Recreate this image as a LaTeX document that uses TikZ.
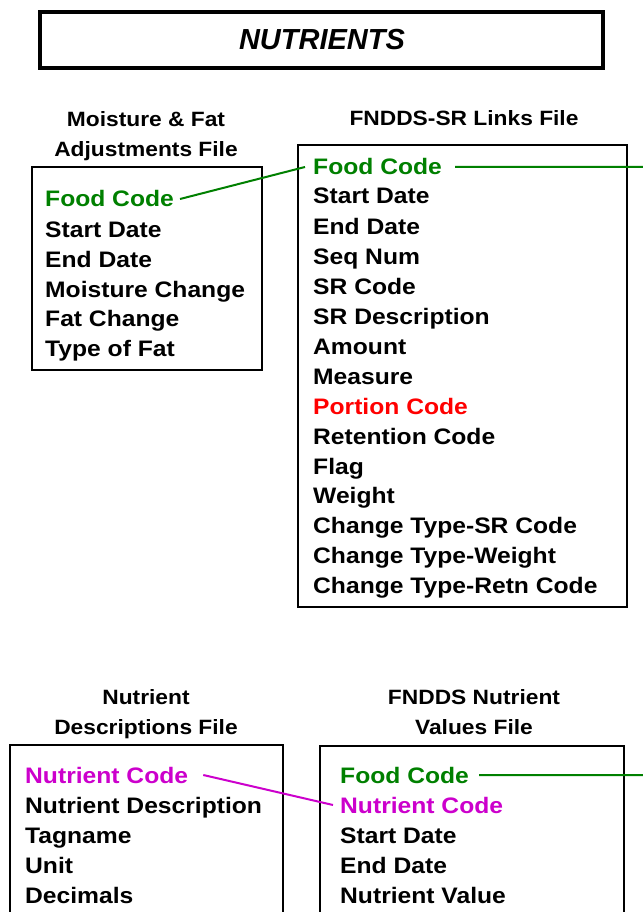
\documentclass[tikz,border=0pt]{standalone}
\usepackage{fontspec}
\newfontfamily\df{Liberation Sans}[FakeStretch=1.1]
\newfontfamily\tf{Liberation Sans}
\definecolor{lgreen}{RGB}{0,128,0}
\definecolor{lmag}{RGB}{204,0,204}
\definecolor{lred}{RGB}{255,0,0}
\begin{document}
\begin{tikzpicture}[x=1pt,y=-1pt,
  box/.style={draw=black,line width=1.1pt,inner sep=0pt},
  titlebox/.style={draw=black,line width=4pt,inner sep=0pt},
  item/.style={anchor=base west,inner sep=0pt,font=\df\bfseries\fontsize{22.4}{26}\selectfont},
  hdr/.style={align=center,inner sep=0pt,font=\df\bfseries\fontsize{20.7}{30}\selectfont},
  link/.style={line width=2pt},
]
\useasboundingbox (0,0) rectangle (642,912);
\fill[white] (0,0) rectangle (642,912);
% title
\node[titlebox,minimum width=563pt,minimum height=56pt] (tb) at (321.5,40) {};
\node[font=\tf\bfseries\itshape\fontsize{29}{34}\selectfont,inner sep=0pt] (tt) at (322,40) {NUTRIENTS};
% headers
\node[hdr] (h1) at (146,136) {Moisture \& Fat\\Adjustments File};
\node[hdr] (h2) at (464,118) {FNDDS-SR Links File};
\node[hdr] (h3) at (146,714) {Nutrient\\Descriptions File};
\node[hdr] (h4) at (474,712) {FNDDS Nutrient\\Values File};
% boxes
\node[box,minimum width=230pt,minimum height=203pt] (b1) at (147,268.5) {};
\node[box,minimum width=329pt,minimum height=462pt] (b2) at (462.5,376) {};
\node[box,minimum width=273pt,minimum height=200pt] (b3) at (146.5,845) {};
\node[box,minimum width=304pt,minimum height=200pt] (b4) at (472,846) {};
% box 1 items
\node[item,text=lgreen] (a1) at (45,207) {Food Code};
\node[item] (a2) at (45,237) {Start Date};
\node[item] (a3) at (45,267) {End Date};
\node[item] (a4) at (45,297) {Moisture Change};
\node[item] (a5) at (45,326) {Fat Change};
\node[item] (a6) at (45,356) {Type of Fat};
% box 2 items
\node[item,text=lgreen] (c1) at (313,175) {Food Code};
\node[item] (c2) at (313,204) {Start Date};
\node[item] (c3) at (313,234) {End Date};
\node[item] (c4) at (313,264) {Seq Num};
\node[item] (c5) at (313,294) {SR Code};
\node[item] (c6) at (313,324) {SR Description};
\node[item] (c7) at (313,354) {Amount};
\node[item] (c8) at (313,384) {Measure};
\node[item,text=lred] (c9) at (313,414) {Portion Code};
\node[item] (c10) at (313,444) {Retention Code};
\node[item] (c11) at (313,474) {Flag};
\node[item] (c12) at (313,503) {Weight};
\node[item] (c13) at (313,533) {Change Type-SR Code};
\node[item] (c14) at (313,563) {Change Type-Weight};
\node[item] (c15) at (313,593) {Change Type-Retn Code};
% box 3 items
\node[item,text=lmag] (d1) at (25,783) {Nutrient Code};
\node[item] (d2) at (25,813) {Nutrient Description};
\node[item] (d3) at (25,843) {Tagname};
\node[item] (d4) at (25,873.5) {Unit};
\node[item] (d5) at (25,903) {Decimals};
% box 4 items
\node[item,text=lgreen] (e1) at (340,783) {Food Code};
\node[item,text=lmag] (e2) at (340,813) {Nutrient Code};
\node[item] (e3) at (340,843) {Start Date};
\node[item] (e4) at (340,873) {End Date};
\node[item] (e5) at (340,903) {Nutrient Value};
% connectors
\coordinate (r1) at (650,167);
\coordinate (r2) at (650,775);
\draw[link,lgreen] ([xshift=6pt]a1.east) -- ([xshift=-8pt]c1.west);
\draw[link,lgreen] ([xshift=13pt]c1.east) -- (r1);
\draw[link,lgreen] ([xshift=10pt]e1.east) -- (r2);
\draw[link,lmag] ([xshift=15pt]d1.east) -- ([xshift=-7pt]e2.west);
\end{tikzpicture}
\end{document}
